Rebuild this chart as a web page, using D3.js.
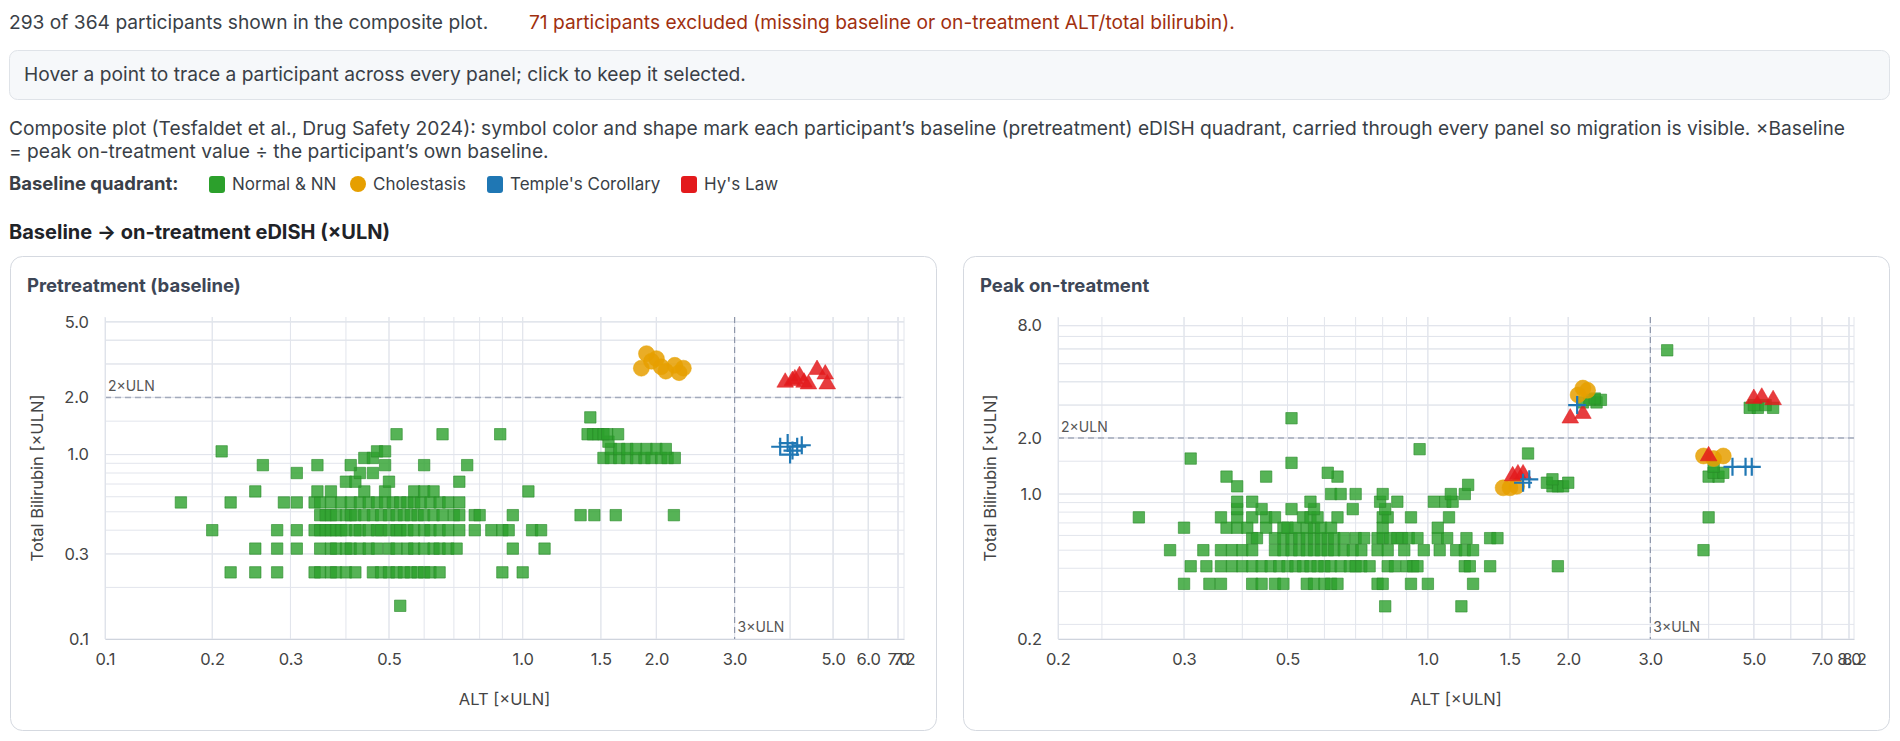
<!DOCTYPE html>
<html><head><meta charset="utf-8">
<script src="https://cdn.jsdelivr.net/npm/d3@7"></script>
<style>
body{margin:0;background:#fff;font-family:Inter,"Liberation Sans",sans-serif;}
svg text{font-family:Inter,"Liberation Sans",sans-serif;}
</style></head><body>
<svg id="c" width="1900" height="741"></svg>
<script>
// ---------- data ----------
const groups = ["Normal & NN","Cholestasis","Temple's Corollary","Hy's Law"];
const groupColors = ["#2ca02c","#e69f00","#1f77b4","#e31a1c"];
const xTicksLeft = [0.1147,0.2,0.3,0.5,1.0,1.5,2.0,3.0,5.0,6.0,7.0,7.22];
const yTicksLeft = [0.107,0.3,1.0,2.0,5.0];
const xTicksRight = [0.161,0.3,0.5,1.0,1.5,2.0,3.0,5.0,7.0,8.0,8.2];
const yTicksRight = [0.167,1.0,2.0,8.0];

// baseline green rows: TBL level -> ALT values
const baseGreenRows = [
 [0.24,[0.22,0.25,0.28,0.34,0.35,0.37,0.38,0.40,0.42,0.46,0.48,0.50,0.52,0.54,0.56,0.58,0.60,0.62,0.65,0.90,1.0]],
 [0.32,[0.25,0.28,0.31,0.35,0.37,0.38,0.40,0.41,0.43,0.45,0.47,0.50,0.52,0.55,0.57,0.60,0.63,0.65,0.68,0.71,0.95,1.12]],
 [0.40,[0.20,0.28,0.31,0.34,0.35,0.36,0.37,0.38,0.39,0.40,0.42,0.43,0.45,0.47,0.48,0.50,0.52,0.53,0.55,0.57,0.60,0.62,0.65,0.68,0.72,0.78,0.85,0.90,0.93,1.05,1.10]],
 [0.48,[0.35,0.36,0.37,0.38,0.40,0.41,0.42,0.44,0.46,0.48,0.50,0.52,0.54,0.56,0.58,0.60,0.63,0.66,0.70,0.72,0.78,0.80,0.95,1.35,1.45,1.62,2.19]],
 [0.56,[0.17,0.22,0.29,0.31,0.34,0.35,0.37,0.39,0.41,0.43,0.45,0.47,0.49,0.51,0.53,0.55,0.57,0.59,0.62,0.65,0.68,0.72]],
 [0.64,[0.25,0.345,0.37,0.44,0.49,0.57,0.60,0.63,1.03]],
 [0.72,[0.40,0.42,0.50,0.72]],
 [0.80,[0.31,0.43,0.46]],
 [0.88,[0.26,0.345,0.41,0.49,0.60,0.75]],
 [0.96,[0.44,0.46,1.52,1.58,1.65,1.72,1.80,1.88,1.95,2.05,2.12,2.20]],
 [1.04,[0.21,0.47,0.49]],
 [1.07,[1.58,1.65,1.72,1.80,1.90,2.00,2.10]],
 [1.17,[1.56]],
 [1.28,[0.52,0.66,0.89,1.40,1.44,1.48,1.52,1.55,1.64]],
 [1.57,[1.42]],
 [0.16,[0.53]]
];
const baseOrange = [[1.9,3.4],[1.95,3.1],[1.85,2.85],[2.05,2.9],[2.1,2.75],[2.2,2.95],[2.3,2.85],[2.0,3.2],[2.25,2.7]];
const baseBlue = [[3.8,1.1],[3.95,1.15],[4.05,1.05],[4.15,1.1],[4.25,1.12],[4.0,1.0]];
const baseRed = [[3.9,2.4],[4.05,2.45],[4.2,2.6],[4.3,2.4],[4.4,2.35],[4.6,2.8],[4.8,2.65],[4.85,2.35],[4.1,2.5]];

const peakGreenRows = [
 [0.25,[0.81,1.18]],
 [0.33,[0.30,0.34,0.36,0.42,0.44,0.47,0.49,0.55,0.57,0.60,0.62,0.64,0.78,0.80,0.92,1.0,1.25]],
 [0.41,[0.31,0.335,0.36,0.38,0.40,0.42,0.44,0.46,0.48,0.50,0.52,0.54,0.56,0.58,0.60,0.62,0.65,0.68,0.70,0.72,0.75,0.82,0.85,0.90,0.93,0.95,1.20,1.23,1.36,1.90]],
 [0.50,[0.28,0.33,0.36,0.38,0.40,0.42,0.47,0.49,0.51,0.53,0.55,0.57,0.59,0.61,0.63,0.66,0.69,0.72,0.78,0.82,0.89,0.98,1.06,1.15,1.20,1.25,3.9]],
 [0.58,[0.42,0.43,0.47,0.49,0.51,0.53,0.55,0.57,0.59,0.61,0.63,0.66,0.70,0.73,0.78,0.80,0.83,0.86,0.88,0.91,0.95,1.05,1.10,1.21,1.36,1.41]],
 [0.66,[0.30,0.37,0.39,0.41,0.45,0.49,0.50,0.52,0.55,0.57,0.59,0.62,0.80,1.05]],
 [0.75,[0.24,0.36,0.39,0.42,0.45,0.47,0.54,0.56,0.58,0.64,0.80,0.82,0.92,1.11,4.0]],
 [0.83,[0.39,0.44,0.51,0.57,0.69,0.81]],
 [0.91,[0.39,0.42,0.56,0.79,0.86,1.03,1.09,1.13]],
 [1.0,[0.62,0.65,0.70,0.80,1.12,1.20]],
 [1.1,[0.39,1.85,1.9,1.95]],
 [1.15,[1.8,2.0]],
 [1.2,[1.85]],
 [1.12,[1.22]],
 [1.24,[0.37,0.45,0.64,4.0,4.2]],
 [1.3,[0.61,4.1,4.3]],
 [1.4,[4.1]],
 [1.47,[0.51]],
 [1.55,[0.31]],
 [1.65,[1.64]],
 [1.74,[0.96]],
 [2.55,[0.51]],
 [2.9,[4.9,5.1,5.5]],
 [3.0,[5.0,5.3]],
 [3.1,[2.15,2.3]],
 [3.2,[2.22,2.35]],
 [3.25,[2.28]],
 [5.9,[3.26]]
];
const peakOrange = [[2.1,3.4],[2.15,3.7],[2.2,3.6],[1.45,1.08],[1.5,1.08],[1.55,1.1],[3.9,1.6],[4.1,1.55],[4.3,1.6]];
const peakBlue = [[1.6,1.15],[1.65,1.2],[2.09,3.0],[4.5,1.4],[4.8,1.4],[4.95,1.4]];
const peakRed = [[2.02,2.55],[2.15,2.7],[1.52,1.25],[1.56,1.28],[1.6,1.28],[5.0,3.25],[5.2,3.3],[5.5,3.2],[4.0,1.6]];

// ---------- page ----------
const svg = d3.select("#c");
const txt = (x,y,s,o={})=>svg.append("text").attr("x",x).attr("y",y).text(s)
  .attr("font-size",o.size||16).attr("fill",o.fill||"#333").attr("font-weight",o.w||400)
  .attr("text-anchor",o.a||"start");
const FS=19.2;
txt(9,29,"293 of 364 participants shown in the composite plot.",{size:FS,fill:"#3a3f47"});
txt(529,29,"71 participants excluded (missing baseline or on-treatment ALT/total bilirubin).",{size:FS,fill:"#a0300f"});
svg.append("rect").attr("x",9.5).attr("y",50.5).attr("width",1880).attr("height",49).attr("rx",8)
  .attr("fill","#f6f8fa").attr("stroke","#dfe3e8");
txt(24,81,"Hover a point to trace a participant across every panel; click to keep it selected.",{size:FS,fill:"#3a3f47"});
txt(9,135,"Composite plot (Tesfaldet et al., Drug Safety 2024): symbol color and shape mark each participant’s baseline (pretreatment) eDISH quadrant, carried through every panel so migration is visible. ×Baseline",{size:FS,fill:"#3a3f47"});
txt(9,158,"= peak on-treatment value ÷ the participant’s own baseline.",{size:FS,fill:"#3a3f47"});
txt(9,190,"Baseline quadrant:",{size:18.5,w:700,fill:"#3a3f47"});
const legX=[209,350,487,681];
groups.forEach((g,i)=>{
  if(i==1) svg.append("circle").attr("cx",legX[i]+8).attr("cy",184).attr("r",8).attr("fill",groupColors[i]);
  else svg.append("rect").attr("x",legX[i]).attr("y",176).attr("width",16).attr("height",17).attr("rx",3).attr("fill",groupColors[i]);
  txt(legX[i]+23,190,g,{size:17,fill:"#3a3f47"});
});
txt(9,239,"Baseline → on-treatment eDISH (×ULN)",{size:20,w:700,fill:"#1f2328"});

// ---------- panels ----------
const sym = {
  sq: d3.symbol().type(d3.symbolSquare).size(130),
  tri: d3.symbol().type(d3.symbolTriangle).size(120)
};
function flat(rows){const o=[];rows.forEach(([t,xs])=>xs.forEach(a=>o.push([a,t])));return o;}
function panel(o){
  svg.append("rect").attr("x",o.cx+0.5).attr("y",256.5).attr("width",926).attr("height",474).attr("rx",12)
    .attr("fill","#fff").attr("stroke","#d5d9e0");
  txt(o.cx+17,292,o.title,{size:18.5,w:700,fill:"#3d4656"});
  const x=d3.scaleLog().domain(o.xd).range(o.xr), y=d3.scaleLog().domain(o.yd).range([639,317]);
  const g=svg.append("g");
  const gx=[];for(let e=-1;e<=0;e++)for(let m=1;m<=9;m++)gx.push(m*10**e);gx.push(1.5);
  for(let m=2;m<=9;m++)gx.push(m);
  const gxs=gx.filter(v=>v>=o.xd[0]*0.999&&v<=o.xd[1]).concat(o.xt);
  const gys=gx.filter(v=>v>=o.yd[0]&&v<=o.yd[1]).concat(o.yt);
  g.selectAll(".vg").data(gxs).join("line").attr("x1",d=>x(d)).attr("x2",d=>x(d)).attr("y1",317).attr("y2",639).attr("stroke","#e2e5ec");
  g.selectAll(".hg").data(gys).join("line").attr("x1",o.xr[0]).attr("x2",o.xr[1]).attr("y1",d=>y(d)).attr("y2",d=>y(d)).attr("stroke","#e2e5ec");
  const ax=svg.append("g").attr("class","ax").attr("transform","translate(0,639)")
    .call(d3.axisBottom(x).tickValues(o.xt).tickFormat(d3.format(".1f")).tickSize(0).tickPadding(14));
  ax.select(".domain").attr("stroke","#cfd4dd");
  const ay=svg.append("g").attr("class","ax").attr("transform",`translate(${o.xr[0]},0)`)
    .call(d3.axisLeft(y).tickValues(o.yt).tickFormat(d3.format(".1f")).tickSize(0).tickPadding(16));
  ay.select(".domain").attr("stroke","#dfe3ea");
  svg.selectAll(".ax .tick text").attr("font-size",16.5).attr("fill","#444");
  txt((o.xr[0]+o.xr[1])/2,705,"ALT [×ULN]",{size:16.5,a:"middle",fill:"#444"});
  svg.append("text").attr("transform",`translate(${o.xr[0]-62},478) rotate(-90)`).attr("text-anchor","middle")
    .attr("font-size",16.5).attr("fill","#444").text("Total Bilirubin [×ULN]");
  // thresholds
  g.append("line").attr("x1",o.xr[0]).attr("x2",o.xr[1]).attr("y1",y(2)).attr("y2",y(2)).attr("stroke","#a3aabb").attr("stroke-width",1.5).attr("stroke-dasharray","6,4");
  g.append("line").attr("x1",x(3)).attr("x2",x(3)).attr("y1",317).attr("y2",639).attr("stroke","#8f97aa").attr("stroke-width",1.2).attr("stroke-dasharray","6,4");
  txt(o.xr[0]+3,y(2)-6,"2×ULN",{size:14,fill:"#555"});
  txt(x(3)+3,632,"3×ULN",{size:14,fill:"#555"});
  const m=svg.append("g");
  m.selectAll(".gsq").data(o.green).join("path").attr("d",sym.sq)
    .attr("transform",d=>`translate(${x(d[0])},${y(d[1])})`).attr("fill",groupColors[0]).attr("fill-opacity",0.8)
    .attr("stroke","#2a8a2a").attr("stroke-opacity",0.6);
  m.selectAll(".oc").data(o.orange).join("circle").attr("cx",d=>x(d[0])).attr("cy",d=>y(d[1])).attr("r",8)
    .attr("fill",groupColors[1]).attr("fill-opacity",0.85).attr("stroke","#e8a400").attr("stroke-opacity",0.5);
  m.selectAll(".rt").data(o.red).join("path").attr("d",sym.tri)
    .attr("transform",d=>`translate(${x(d[0])},${y(d[1])})`).attr("fill",groupColors[3]).attr("fill-opacity",0.85)
    .attr("stroke","#e31a1c").attr("stroke-opacity",0.5);
  m.selectAll(".bp").data(o.blue).join("path")
    .attr("d","M-9,0H9M0,-9V9").attr("transform",d=>`translate(${x(d[0])},${y(d[1])})`)
    .attr("stroke",groupColors[2]).attr("stroke-width",2.2).attr("fill","none");
}
panel({cx:10,title:"Pretreatment (baseline)",xd:[0.1147,7.22],xr:[105,904],yd:[0.107,5.3],
  xt:xTicksLeft,yt:yTicksLeft,green:flat(baseGreenRows),orange:baseOrange,blue:baseBlue,red:baseRed});
panel({cx:963,title:"Peak on-treatment",xd:[0.161,8.2],xr:[1058,1854],yd:[0.167,8.9],
  xt:xTicksRight,yt:yTicksRight,green:flat(peakGreenRows),orange:peakOrange,blue:peakBlue,red:peakRed});
</script></body></html>
